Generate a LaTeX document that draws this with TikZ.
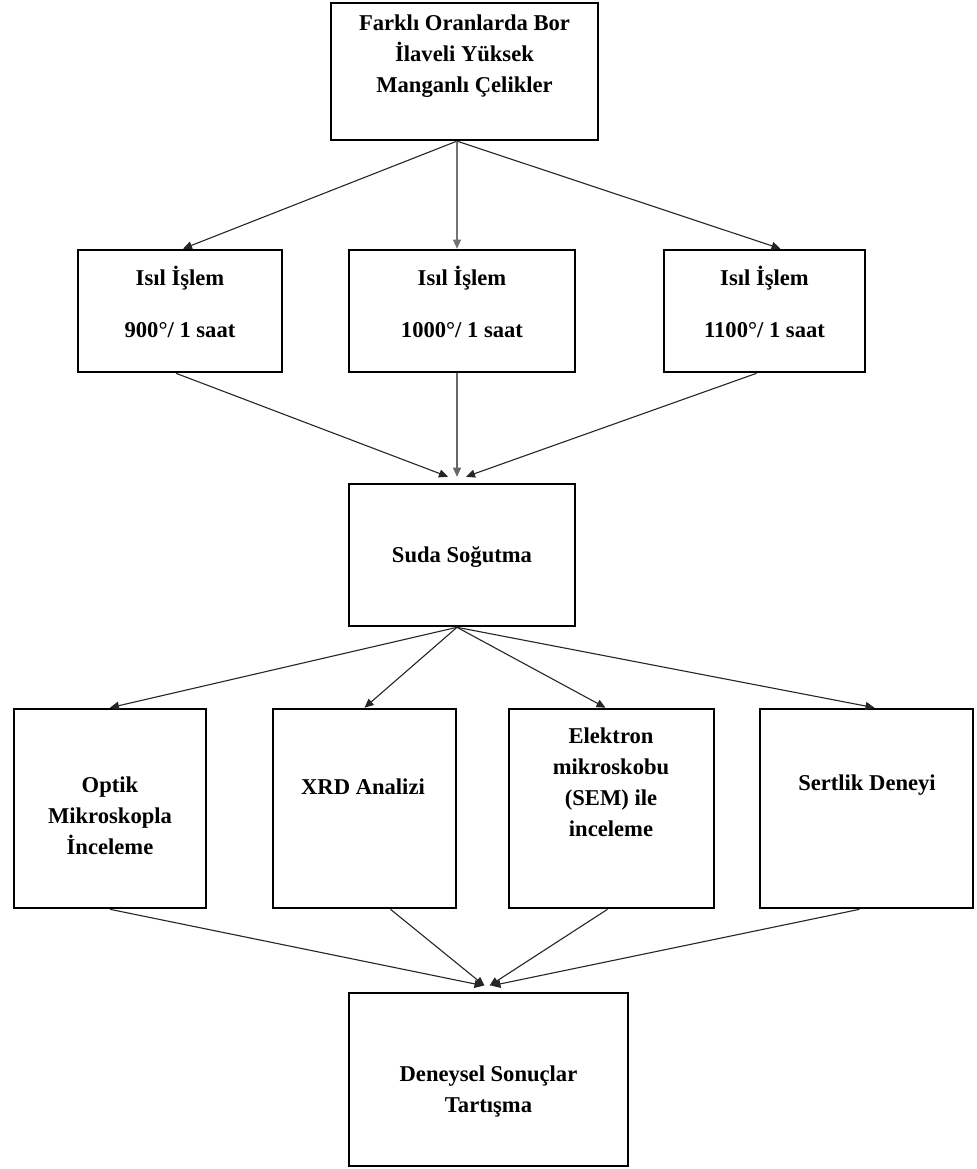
\documentclass[tikz,border=0pt]{standalone}
\usepackage{fontspec}
\setmainfont{Liberation Serif}
\usetikzlibrary{arrows.meta}
\begin{document}
\begin{tikzpicture}[x=0.5pt,y=-0.5pt,
  box/.style={draw=black,line width=1.3pt,fill=white,inner sep=0pt},
  txt/.style={align=center,inner sep=0pt,font=\fontsize{11.3pt}{15.5pt}\selectfont\bfseries},
  conn/.style={draw=black!85,line width=0.55pt,-{Triangle[length=4.5pt,width=4pt]}}]
\useasboundingbox (0,0) rectangle (976,1169);
\fill[white] (0,0) rectangle (976,1169);
% boxes
\node[box,minimum width=133.5pt,minimum height=68.5pt] (top) at (464.5,71.5) {};
\node[box,minimum width=102pt,minimum height=61pt] (h1) at (180,311) {};
\node[box,minimum width=113pt,minimum height=61pt] (h2) at (462,311) {};
\node[box,minimum width=100.5pt,minimum height=61pt] (h3) at (764.5,311) {};
\node[box,minimum width=113pt,minimum height=71pt] (cool) at (462,555) {};
\node[box,minimum width=96pt,minimum height=99.5pt] (t1) at (110,808.5) {};
\node[box,minimum width=91.5pt,minimum height=99.5pt] (t2) at (364.5,808.5) {};
\node[box,minimum width=102.5pt,minimum height=99.5pt] (t3) at (611.5,808.5) {};
\node[box,minimum width=106.5pt,minimum height=99.5pt] (t4) at (866.5,808.5) {};
\node[box,minimum width=139.5pt,minimum height=86.5pt] (res) at (488.5,1079.5) {};
% texts
\node[txt] (topt) at (464.5,56) {Farklı Oranlarda Bor\\İlaveli Yüksek\\Manganlı Çelikler};
\node[txt] (h1t) at (180,302) {Isıl İşlem\\[10.5pt]900°/ 1 saat};
\node[txt] (h2t) at (462,302) {Isıl İşlem\\[10.5pt]1000°/ 1 saat};
\node[txt] (h3t) at (764.5,302) {Isıl İşlem\\[10.5pt]1100°/ 1 saat};
\node[txt] (coolt) at (462,557) {Suda Soğutma};
\node[txt] (t1t) at (110,816) {Optik\\Mikroskopla\\İnceleme};
\node[txt] (t2t) at (363,787) {XRD Analizi};
\node[txt] (t3t) at (611,782) {Elektron\\mikroskobu\\(SEM) ile\\inceleme};
\node[txt] (t4t) at (867,785) {Sertlik Deneyi};
\node[txt] (rest) at (488.5,1091) {Deneysel Sonuçlar\\Tartışma};
% connectors
\draw[conn] ([xshift=-4pt]top.south) -- ([xshift=1.5pt]h1.north);
\draw[conn,draw=black!55] ([xshift=-3.75pt]top.south) -- ([xshift=-2.5pt]h2.north);
\draw[conn] ([xshift=-3.5pt]top.south) -- ([xshift=8pt]h3.north);
\draw[conn] ([xshift=-2pt]h1.south) -- ([xshift=-7pt,yshift=3pt]cool.north);
\draw[conn,draw=black!60] ([xshift=-2.5pt]h2.south) -- ([xshift=-2.5pt,yshift=3pt]cool.north);
\draw[conn] ([xshift=-4pt]h3.south) -- ([xshift=2pt,yshift=3pt]cool.north);
\draw[conn] ([xshift=-2.5pt]cool.south) -- (t1.north);
\draw[conn] ([xshift=-2.5pt]cool.south) -- (t2.north);
\draw[conn] ([xshift=-2.5pt]cool.south) -- ([xshift=-3pt]t3.north);
\draw[conn] ([xshift=-2.5pt]cool.south) -- ([xshift=4pt]t4.north);
\draw[conn] (t1.south) -- ([xshift=-2.5pt,yshift=3pt]res.north);
\draw[conn] ([xshift=13pt]t2.south) -- ([xshift=-2pt,yshift=3pt]res.north);
\draw[conn] ([xshift=-2pt]t3.south) -- ([xshift=0.5pt,yshift=3pt]res.north);
\draw[conn] ([xshift=-3.5pt]t4.south) -- ([xshift=1.5pt,yshift=3pt]res.north);
\end{tikzpicture}
\end{document}
